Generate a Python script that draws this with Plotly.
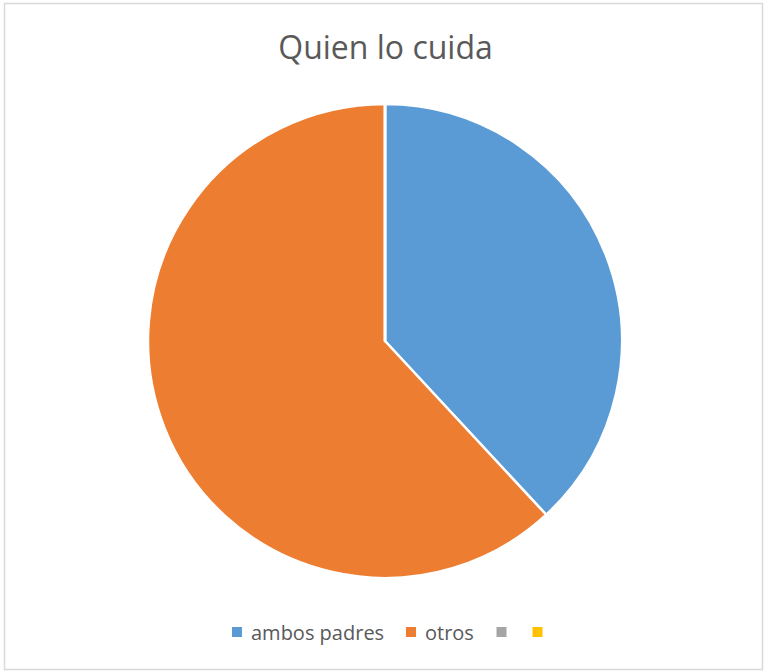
import plotly.graph_objects as go

labels = ["ambos padres", "otros", "", ""]
values = [8, 13, 0, 0]
colors = ["#5B9BD5", "#ED7D31", "#A5A5A5", "#FFC000"]

W, H = 765, 671
cx, cy, r = 385, 341, 237

fig = go.Figure(go.Pie(
    labels=["ambos padres", "otros", "s3", "s4"], values=values, sort=False,
    direction="clockwise", rotation=0,
    marker=dict(colors=colors, line=dict(color="white", width=2.5)),
    textinfo="none", hoverinfo="label+value", showlegend=False,
    domain=dict(x=[(cx - r) / W, (cx + r) / W], y=[1 - (cy + r) / H, 1 - (cy - r) / H]),
))

# custom legend (Excel-like compact spacing)
leg_y = 632
sq_centers = [237, 411, 501.5, 537.5]
shapes = [dict(type="rect", xref="paper", yref="paper", x0=4.5 / W, x1=762.5 / W,
               y0=1 - 669.5 / H, y1=1 - 3.5 / H, line=dict(color="#D9D9D9", width=1.5))]
annotations = []
for lab, col, sx in zip(labels, colors, sq_centers):
    shapes.append(dict(type="rect", xref="paper", yref="paper",
                       x0=(sx - 5) / W, x1=(sx + 5) / W,
                       y0=1 - (leg_y + 5) / H, y1=1 - (leg_y - 5) / H,
                       fillcolor=col, line=dict(width=0)))
    if lab:
        annotations.append(dict(text=lab, xref="paper", yref="paper", x=(sx + 12) / W,
                                y=1 - leg_y / H, xanchor="left", yanchor="middle",
                                showarrow=False, font=dict(size=20, color="#595959")))

fig.update_layout(
    width=W, height=H, margin=dict(l=0, r=0, t=0, b=0),
    paper_bgcolor="white", plot_bgcolor="white",
    font=dict(family="Open Sans", color="#595959"),
    title=dict(text="Quien lo cuida", x=385.5 / W, xanchor="center", y=1 - 48 / H, yanchor="middle",
               font=dict(size=32, color="#595959")),
    showlegend=False,
    shapes=shapes, annotations=annotations,
)

fig.write_html("out.html", config={"displayModeBar": False},
               post_script="document.body.style.margin='0';")
